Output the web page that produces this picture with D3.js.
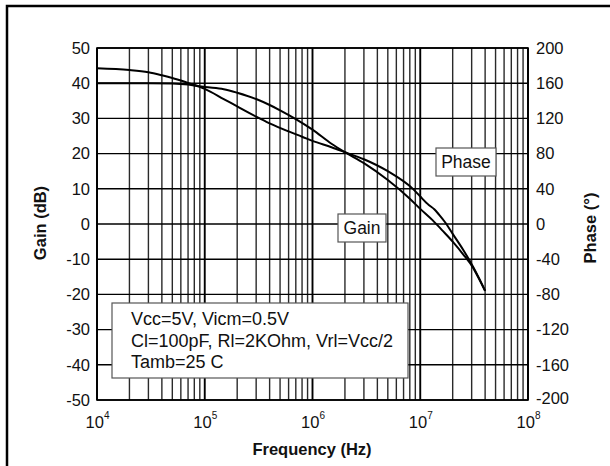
<!DOCTYPE html>
<html><head><meta charset="utf-8">
<script src="https://cdn.jsdelivr.net/npm/d3@7"></script>
<style>body{margin:0;background:#fff} svg{display:block} text{font-family:"Liberation Sans",Arial,sans-serif;fill:#111}</style>
</head><body><svg id="c" width="610" height="466"></svg>
<script>
const gainFreq = [1e4,2e4,3e4,5e4,7e4,9e4,1e5,1.5e5,2e5,3e5,4e5,5e5,7e5,1e6,1.5e6,2e6,3e6,5e6,8e6,1e7,1.3e7,1.6e7,2e7,2.5e7,3.1e7,3.5e7,4e7];
const gainDb   = [40,40,40,39.9,39.6,39.1,38.9,38.3,37.3,35.5,33.8,32.3,29.8,26.8,22.8,20.4,17.3,12.5,7.2,4.3,1.1,-1.8,-5.0,-8.6,-12.5,-15.5,-19];
const phaseFreq = [1e4,2e4,3e4,4e4,5e4,7e4,9e4,1e5,1.5e5,2e5,3e5,4e5,6e5,8e5,1e6,1.5e6,2e6,3e6,5e6,8.6e6,1e7,1.2e7,1.35e7,1.5e7,1.7e7,2e7,2.5e7,3.1e7,3.5e7,4e7];
const phaseDeg  = [177,175,172.4,169,166,160.4,156,153.6,142,133.6,122,114.4,105.2,99.2,94.4,87.2,81.6,73.6,60,39.6,31.2,21.6,16.8,10.4,2,-11.2,-29.2,-48.8,-61.2,-76];
const gainTicks = [-50,-40,-30,-20,-10,0,10,20,30,40,50];
const phaseTicks = [-200,-160,-120,-80,-40,0,40,80,120,160,200];
const decadeExps = [4,5,6,7,8];
const noteLines = ["Vcc=5V, Vicm=0.5V","Cl=100pF, Rl=2KOhm, Vrl=Vcc/2","Tamb=25 C"];

const svg = d3.select("#c");
const L=97, R=528, T=48, B=400;
const x = d3.scaleLog().domain([1e4,1e8]).range([L,R]);
const yG = d3.scaleLinear().domain([-50,50]).range([B,T]);
const yP = d3.scaleLinear().domain([-200,200]).range([B,T]);

// outer border
svg.append("rect").attr("x",7).attr("y",6).attr("width",700).attr("height",700)
  .attr("fill","none").attr("stroke","#000").attr("stroke-width",2.5);

// vertical grid
const vg = [];
decadeExps.slice(0,-1).forEach(e=>{ for(let m=1;m<=9;m++) vg.push({f:m*Math.pow(10,e),major:m===1}); });
vg.push({f:1e8,major:true});
svg.append("g").selectAll("line").data(vg).join("line")
  .attr("x1",d=>x(d.f)).attr("x2",d=>x(d.f)).attr("y1",T).attr("y2",B)
  .attr("stroke",d=>d.major?"#000":"#2a2a2a").attr("stroke-width",d=>d.major?1.9:1.4);
// horizontal grid
svg.append("g").selectAll("line").data(gainTicks).join("line")
  .attr("x1",L).attr("x2",R).attr("y1",d=>yG(d)).attr("y2",d=>yG(d))
  .attr("stroke","#000").attr("stroke-width",1.4);
// frame
svg.append("rect").attr("x",L).attr("y",T).attr("width",R-L).attr("height",B-T)
  .attr("fill","none").attr("stroke","#000").attr("stroke-width",1.6);

// axes labels
const fmt = d=>String(d);
const axL = svg.append("g").attr("transform",`translate(${L},0)`)
  .call(d3.axisLeft(yG).tickValues(gainTicks).tickSize(0).tickPadding(7).tickFormat(fmt));
const axR = svg.append("g").attr("transform",`translate(${R},0)`)
  .call(d3.axisRight(yP).tickValues(phaseTicks).tickSize(0).tickPadding(8).tickFormat(fmt));
[axL,axR].forEach(a=>{a.select(".domain").remove(); a.selectAll("text").attr("font-size",16.5).attr("font-family","Liberation Sans, Arial, sans-serif").attr("fill","#111");});
axR.selectAll(".tick").filter(d=>d===-200).select("text").attr("dy","0.2em");

const axB = svg.append("g").attr("transform",`translate(0,${B})`)
  .call(d3.axisBottom(x).tickValues(decadeExps.map(e=>Math.pow(10,e))).tickSize(0).tickFormat(""));
axB.select(".domain").remove();
axB.selectAll(".tick").each(function(d){
  const t = d3.select(this).append("text").attr("y",28).attr("text-anchor","middle")
    .attr("font-size",16.5).attr("fill","#111");
  t.append("tspan").text("10");
  t.append("tspan").attr("dy",-9).attr("font-size",10).text(Math.round(Math.log10(d)));
});

svg.append("text").attr("x",312).attr("y",455).attr("text-anchor","middle")
  .attr("font-size",16.5).attr("font-weight","bold").text("Frequency (Hz)");
svg.append("text").attr("transform","translate(46,223) rotate(-90)").attr("text-anchor","middle")
  .attr("font-size",16.5).attr("font-weight","bold").text("Gain (dB)");
svg.append("text").attr("transform","translate(596,228) rotate(-90)").attr("text-anchor","middle")
  .attr("font-size",16.5).attr("font-weight","bold").text("Phase (°)");

// curves
const gainData = gainFreq.map((f,i)=>[f,gainDb[i]]);
const phaseData = phaseFreq.map((f,i)=>[f,phaseDeg[i]]);
svg.append("path").datum(gainData).attr("fill","none").attr("stroke","#000").attr("stroke-width",2)
  .attr("d",d3.line().x(d=>x(d[0])).y(d=>yG(d[1])).curve(d3.curveMonotoneX));
svg.append("path").datum(phaseData).attr("fill","none").attr("stroke","#000").attr("stroke-width",2)
  .attr("d",d3.line().x(d=>x(d[0])).y(d=>yP(d[1])).curve(d3.curveMonotoneX));

// label boxes
function box(x0,y0,w,h){
  svg.append("rect").attr("x",x0).attr("y",y0).attr("width",w).attr("height",h)
    .attr("fill","#fff").attr("stroke","#555").attr("stroke-width",1.2);
}
box(338,214,48,28);
svg.append("text").attr("x",362).attr("y",234).attr("text-anchor","middle").attr("font-size",17.5).attr("fill","#222").text("Gain");
box(436,148,60,28);
svg.append("text").attr("x",466).attr("y",168).attr("text-anchor","middle").attr("font-size",17.5).attr("fill","#222").text("Phase");

box(112,303,296,75);
svg.append("g").selectAll("text").data(noteLines).join("text")
  .attr("x",131).attr("y",(d,i)=>325+i*21.7).attr("font-size",18).attr("fill","#222").text(d=>d);
</script></body></html>
